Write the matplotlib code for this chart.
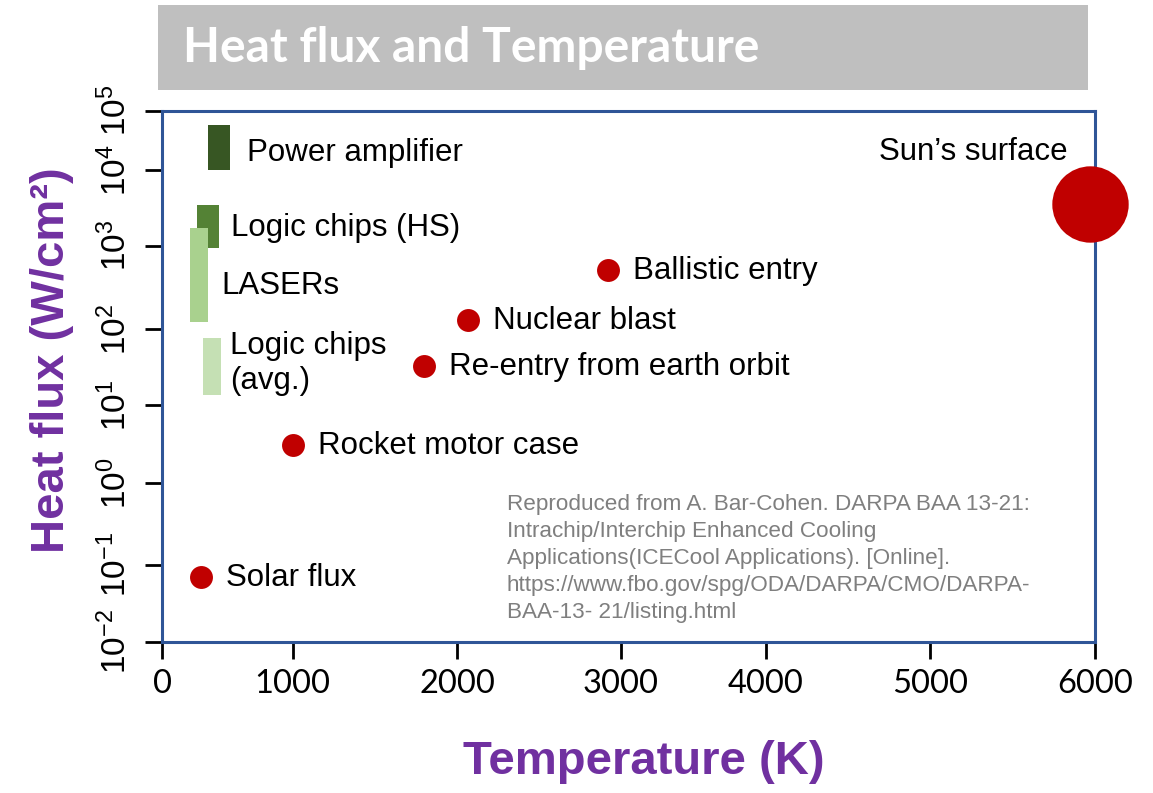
import numpy as np
import matplotlib
matplotlib.use("Agg")
import matplotlib.pyplot as plt
from matplotlib.patches import Rectangle

# ---------------- data ----------------
bar_names = ["Power amplifier", "Logic chips (HS)", "LASERs", "Logic chips\n(avg.)"]
bar_temp_low = [350, 270, 215, 315]
bar_temp_high = [520, 440, 350, 455]
bar_flux_low = [1.0e4, 930, 120, 13.5]
bar_flux_high = [5.7e4, 3500, 1700, 75]

point_names = ["Solar flux", "Rocket motor case", "Re-entry from earth orbit",
               "Nuclear blast", "Ballistic entry"]
point_temp = [300, 1000, 1800, 2070, 2920]
point_flux = [0.07, 3.1, 33, 128, 511]

sun_name = "Sun\u2019s surface"
sun_temp = [5970]
sun_flux = [3550]

x_ticks = [0, 1000, 2000, 3000, 4000, 5000, 6000]
y_tick_exps = [-2, -1, 0, 1, 2, 3, 4, 5]

# ---------------- style ----------------
bar_colors = ["#375623", "#548235", "#a9d18e", "#c5e0b4"]
bar_label_nudge = [(17, -5), (12, -2), (14, -11), (9, 3)]   # pixels
point_color = "#c00000"
spine_color = "#2f5597"
purple = "#7030a0"

# the original chart's axes are hand-drawn with irregular tick spacing
X_TICK_PX = [0, 130.6, 295, 459, 604, 768, 933]
Y_TICK_PX = [0, 76.7, 158.7, 236.7, 312.7, 396, 471.7, 531]


def pw(x, xp, fp):
    x = np.asarray(x, dtype=float)
    xp = np.asarray(xp, dtype=float)
    fp = np.asarray(fp, dtype=float)
    y = np.interp(x, xp, fp)
    lo_s = (fp[1] - fp[0]) / (xp[1] - xp[0])
    hi_s = (fp[-1] - fp[-2]) / (xp[-1] - xp[-2])
    y = np.where(x < xp[0], fp[0] + (x - xp[0]) * lo_s, y)
    y = np.where(x > xp[-1], fp[-1] + (x - xp[-1]) * hi_s, y)
    return y


def x_fwd(x):
    return pw(x, x_ticks, X_TICK_PX)


def x_inv(p):
    return pw(p, X_TICK_PX, x_ticks)


def y_fwd(y):
    y = np.asarray(y, dtype=float)
    ly = np.log10(np.where(y > 0, y, 1e-300))
    return pw(ly, y_tick_exps, Y_TICK_PX)


def y_inv(p):
    return 10.0 ** pw(p, Y_TICK_PX, y_tick_exps)


plt.rcParams["font.family"] = ["Liberation Sans", "DejaVu Sans"]
plt.rcParams["mathtext.fontset"] = "custom"
plt.rcParams["mathtext.rm"] = "Liberation Sans"
plt.rcParams["mathtext.it"] = "Liberation Sans:italic"
plt.rcParams["mathtext.bf"] = "Liberation Sans:bold"

W, H = 1153, 793
fig = plt.figure(figsize=(W / 100, H / 100), dpi=100)
fig.patch.set_facecolor("white")

# title band
fig.add_artist(Rectangle((158 / W, 1 - 90 / H), (1088 - 158) / W, 85 / H,
                         transform=fig.transFigure, facecolor="#bfbfbf",
                         edgecolor="none", zorder=0))
title = fig.text(183 / W, 1 - 48 / H, "Heat flux and Temperature", color="white",
                 fontsize=34.6, fontweight="bold", family=["Lato", "DejaVu Sans"],
                 ha="left", va="center", zorder=2)

ax = fig.add_axes([162 / W, 1 - 641.7 / H, (1095 - 162) / W, (641.7 - 110.7) / H])
ax.set_xscale("function", functions=(x_fwd, x_inv))
ax.set_yscale("function", functions=(y_fwd, y_inv))
ax.set_xlim(0, 6000)
ax.set_ylim(1e-2, 1e5)

# bars (ranges)
for name, t0, t1, q0, q1, c, (dx, dy) in zip(bar_names, bar_temp_low, bar_temp_high,
                                             bar_flux_low, bar_flux_high, bar_colors,
                                             bar_label_nudge):
    ax.bar(t0, q1 - q0, width=t1 - t0, bottom=q0, align="edge", color=c,
           edgecolor="none", zorder=3)
    ymid = float(y_inv((y_fwd(q0) + y_fwd(q1)) / 2))
    ax.annotate(name, xy=(t1, ymid), xytext=(dx, dy), textcoords="offset pixels",
                ha="left", va="center", fontsize=22.5, color="black",
                linespacing=1.2, zorder=5)

# points
ax.plot(point_temp, point_flux, "o", ms=16.5, color=point_color, mec="none",
        zorder=4, clip_on=False)
for name, t, q in zip(point_names, point_temp, point_flux):
    ax.annotate(name, xy=(t, q), xytext=(25, -1), textcoords="offset pixels",
                ha="left", va="center", fontsize=22.5, color="black", zorder=5)

ax.plot(sun_temp, sun_flux, "o", ms=55, color=point_color, mec="none",
        zorder=4, clip_on=False)
ax.annotate(sun_name, xy=(sun_temp[0], sun_flux[0]), xytext=(-22, 52),
            textcoords="offset pixels", ha="right", va="center",
            fontsize=22.5, color="black", zorder=5)

# axes styling
for s in ax.spines.values():
    s.set_color(spine_color)
    s.set_linewidth(2.2)
    s.set_zorder(3.5)

ax.set_xticks(x_ticks)
ax.set_xticklabels([str(v) for v in x_ticks],
                   family=["Lato", "Liberation Sans"], fontsize=23.5)
ax.set_yticks([10.0 ** e for e in y_tick_exps])
ax.set_yticklabels([r"$\mathregular{10^{%d}}$" % e for e in y_tick_exps],
                   fontsize=24, rotation=90, va="center")
ax.minorticks_off()
ax.tick_params(axis="both", which="major", direction="out", length=12, width=2,
               color="black")
ax.tick_params(axis="x", pad=8)
ax.tick_params(axis="y", pad=9)

# axis labels
fig.text(644 / W, 1 - 762 / H, "Temperature (K)", color=purple, fontsize=34,
         fontweight="bold", ha="center", va="center")
fig.text(52 / W, 1 - 360 / H, "Heat flux (W/cm\u00b2)", color=purple, fontsize=34,
         fontweight="bold", ha="center", va="center", rotation=90)

# citation
fig.text(507 / W, 1 - 494 / H,
         "Reproduced from A. Bar-Cohen. DARPA BAA 13-21:\n"
         "Intrachip/Interchip Enhanced Cooling\n"
         "Applications(ICECool Applications). [Online].\n"
         "https://www.fbo.gov/spg/ODA/DARPA/CMO/DARPA-\n"
         "BAA-13- 21/listing.html",
         color="#7f7f7f", fontsize=16.2, ha="left", va="top", linespacing=1.38)

fig.savefig("out.png", dpi=100, facecolor="white")
